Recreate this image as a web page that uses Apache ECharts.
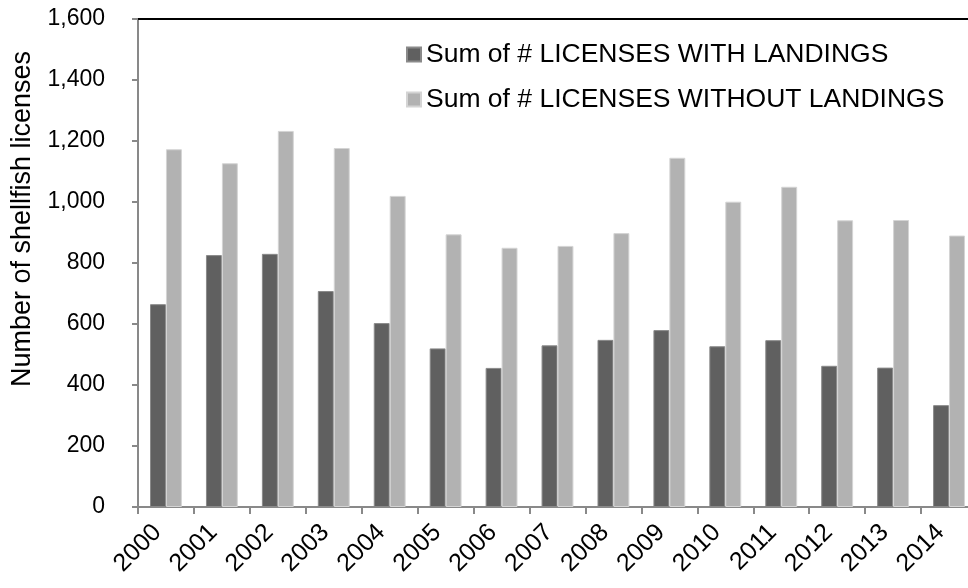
<!DOCTYPE html>
<html>
<head>
<meta charset="utf-8">
<script src="https://cdn.jsdelivr.net/npm/echarts@6/dist/echarts.min.js"></script>
<style>
html,body{margin:0;padding:0;background:#fff;}
#c{width:968px;height:588px;}
</style>
</head>
<body>
<div id="c"></div>
<script>
var years = ['2000','2001','2002','2003','2004','2005','2006','2007','2008','2009','2010','2011','2012','2013','2014'];
var withLandings = [665, 826, 830, 708, 603, 520, 456, 530, 548, 580, 527, 547, 463, 457, 334];
var withoutLandings = [1173, 1127, 1233, 1177, 1020, 894, 850, 856, 898, 1145, 1001, 1050, 940, 941, 890];
var seriesNames = ['Sum of # LICENSES WITH LANDINGS', 'Sum of # LICENSES WITHOUT LANDINGS'];
var yTicks = [0, 200, 400, 600, 800, 1000, 1200, 1400, 1600];
var yTitle = 'Number of shellfish licenses';

var FONT = '"Liberation Sans", Arial, sans-serif';
var chart = echarts.init(document.getElementById('c'), null, {renderer: 'canvas'});
chart.setOption({
  animation: false,
  backgroundColor: '#ffffff',
  textStyle: {fontFamily: FONT},
  grid: {left: 138, top: 19, width: 839, height: 488, containLabel: false, outerBoundsMode: 'none'},
  legend: {
    orient: 'vertical',
    left: 401,
    top: 36,
    itemWidth: 14,
    itemHeight: 14,
    itemGap: 18,
    icon: 'rect',
    textStyle: {fontFamily: FONT, fontSize: 26.5, color: '#000'},
    data: seriesNames
  },
  xAxis: [{
    type: 'category',
    data: years,
    position: 'bottom',
    axisLine: {lineStyle: {color: '#898989', width: 2}},
    axisTick: {show: true, length: 7, lineStyle: {color: '#898989', width: 2}},
    axisLabel: {rotate: 45, fontSize: 25, color: '#000', fontFamily: FONT, margin: 13, interval: 0, padding: [0, 12, 0, 0]}
  }, {
    type: 'category',
    data: years,
    position: 'top',
    axisLine: {lineStyle: {color: '#000', width: 2}},
    axisTick: {show: false},
    axisLabel: {show: false}
  }],
  yAxis: {
    type: 'value',
    min: yTicks[0],
    max: yTicks[yTicks.length - 1],
    interval: 200,
    axisLine: {show: true, lineStyle: {color: '#898989', width: 2}},
    axisTick: {show: true, length: 6, lineStyle: {color: '#898989', width: 2}},
    splitLine: {show: false},
    axisLabel: {
      fontSize: 23, color: '#000', fontFamily: FONT, margin: 33,
      formatter: function (v) { return v.toLocaleString('en-US'); }
    },
    name: yTitle,
    nameLocation: 'middle',
    nameGap: 98,
    nameTextStyle: {fontSize: 27, color: '#000', fontFamily: FONT, padding: [0, 0, 0, 88]}
  },
  series: [{
    name: seriesNames[0],
    type: 'bar',
    data: withLandings,
    barGap: '0%',
    barCategoryGap: '43%',
    itemStyle: {color: '#606060', borderColor: '#8a8a8a', borderWidth: 1}
  }, {
    name: seriesNames[1],
    type: 'bar',
    data: withoutLandings,
    barGap: '0%',
    barCategoryGap: '43%',
    itemStyle: {color: '#b2b2b2', borderColor: '#d4d4d4', borderWidth: 1}
  }]
});
</script>
</body>
</html>
